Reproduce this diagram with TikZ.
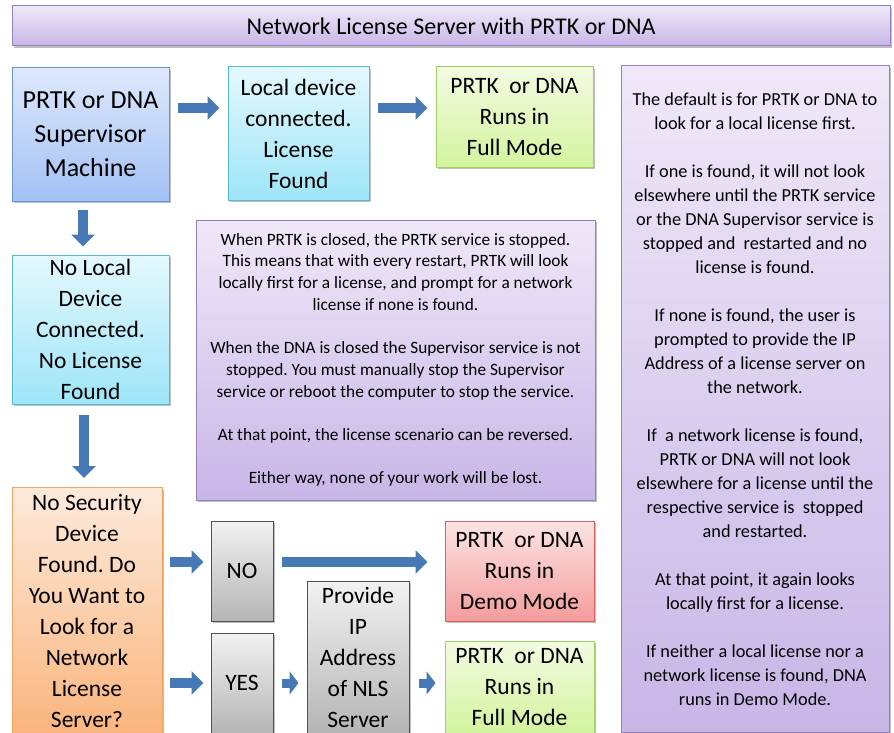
\documentclass[tikz,border=0pt]{standalone}
\usepackage{fontspec}
\setmainfont{Carlito}
\usetikzlibrary{arrows.meta,shadows}
\frenchspacing
\definecolor{arrowblue}{HTML}{4779B6}
\definecolor{purpT}{HTML}{EFE8F8}\definecolor{purpB}{HTML}{C8B6E7}\definecolor{purpD}{HTML}{9580BE}
\definecolor{blueT}{HTML}{DDE8FC}\definecolor{blueB}{HTML}{A3C1F5}\definecolor{blueD}{HTML}{6B93D0}
\definecolor{cyanT}{HTML}{E4F8FD}\definecolor{cyanB}{HTML}{9DE5F8}\definecolor{cyanD}{HTML}{55BCD4}
\definecolor{grnT}{HTML}{F3FBE2}\definecolor{grnB}{HTML}{D3F49E}\definecolor{grnD}{HTML}{A0D064}
\definecolor{orT}{HTML}{FDEADB}\definecolor{orB}{HTML}{FAB57D}\definecolor{orD}{HTML}{F0A460}
\definecolor{redT}{HTML}{FCE4E4}\definecolor{redB}{HTML}{F49C9C}\definecolor{redD}{HTML}{D86262}
\definecolor{gryT}{HTML}{F2F2F2}\definecolor{gryB}{HTML}{B5B5B5}\definecolor{gryD}{HTML}{505050}
\tikzset{
  box/.style={rectangle, line width=1pt, align=center, inner sep=0pt,
    drop shadow={shadow xshift=1.5pt, shadow yshift=-2pt, opacity=0.25, fill=black}},
  purpbox/.style={box, draw=purpD, top color=purpT, bottom color=purpB},
  bluebox/.style={box, draw=blueD, top color=blueT, bottom color=blueB},
  cyanbox/.style={box, draw=cyanD, top color=cyanT, bottom color=cyanB},
  grnbox/.style={box, draw=grnD, top color=grnT, bottom color=grnB},
  orbox/.style={box, draw=orD, top color=orT, bottom color=orB},
  redbox/.style={box, draw=redD, top color=redT, bottom color=redB},
  grybox/.style={box, draw=gryD, top color=gryT, bottom color=gryB},
  barrow/.style={draw=arrowblue, line width=10pt, -{Triangle[width=23pt,length=12pt]}},
  sarrow/.style={draw=arrowblue, line width=9pt, -{Triangle[width=23pt,length=9pt]}},
  bigtxt/.style={font=\fontsize{26}{34}\selectfont},
  medtxt/.style={font=\fontsize{23.5}{31}\selectfont},
  midtxt/.style={font=\fontsize{17.3}{21.7}\selectfont},
  sidetxt/.style={font=\fontsize{18.3}{24}\selectfont},
}
\begin{document}
\begin{tikzpicture}[x=1pt,y=-1pt]
\useasboundingbox (0,0) rectangle (894,733);
\clip (0,0) rectangle (894,733);
\fill[white] (0,0) rectangle (894,733);

\node[purpbox, minimum width=878pt, minimum height=40pt, font=\fontsize{24}{28}\selectfont] (title) at (451,26) {Network License Server with PRTK or DNA};

\node[bluebox, minimum width=157pt, minimum height=133pt, bigtxt] (sup) at (90.5,134.5) {PRTK or DNA\\Supervisor\\Machine};
\node[cyanbox, minimum width=141pt, minimum height=133pt, medtxt] (loc) at (298.5,133.5) {Local device\\connected.\\License\\Found};
\node[grnbox, minimum width=157pt, minimum height=100pt, medtxt] (fullA) at (514.5,117) {PRTK~~or DNA\\Runs in\\Full Mode};

\node[purpbox, minimum width=268pt, minimum height=666pt, sidetxt] (side) at (755,399) {The default is for PRTK or DNA to\\look for a local license first.\\[24pt]If one is found, it will not look\\elsewhere until the PRTK service\\or the DNA Supervisor service is\\stopped and~~restarted and no\\license is found.\\[24pt]If none is found, the user is\\prompted to provide the IP\\Address of a license server on\\the network.\\[24pt]If~~a network license is found,\\PRTK or DNA will not look\\elsewhere for a license until the\\respective service is~~stopped\\and restarted.\\[24pt]At that point, it again looks\\locally first for a license.\\[24pt]If neither a local license nor a\\network license is found, DNA\\runs in Demo Mode.};

\node[cyanbox, minimum width=157pt, minimum height=149pt, medtxt] (nol) at (90.5,329.5) {No Local\\Device\\Connected.\\No License\\Found};

\node[purpbox, minimum width=399pt, minimum height=280pt, midtxt] (mid) at (395.5,360) {When PRTK is closed, the PRTK service is stopped.\\This means that with every restart, PRTK will look\\locally first for a license, and prompt for a network\\license if none is found.\\[21.7pt]When the DNA is closed the Supervisor service is not\\stopped. You must manually stop the Supervisor\\service or reboot the computer to stop the service.\\[21.7pt]At that point, the license scenario can be reversed.\\[21.7pt]Either way, none of your work will be lost.};

\node[orbox, minimum width=150pt, minimum height=246pt, medtxt] (ask) at (87,610.5) {No Security\\Device\\Found. Do\\You Want to\\Look for a\\Network\\License\\Server?};

\node[grybox, minimum width=62pt, minimum height=100pt, medtxt] (no) at (242,571) {NO};
\node[redbox, minimum width=149pt, minimum height=100pt, medtxt] (demo) at (519.5,571) {PRTK~~or DNA\\Runs in\\Demo Mode};
\node[grybox, minimum width=62pt, minimum height=100pt, medtxt] (yes) at (242,683) {YES};
\node[grybox, minimum width=102pt, minimum height=152pt, medtxt] (prov) at (358,657) {Provide\\IP\\Address\\of NLS\\Server};
\node[grnbox, minimum width=149pt, minimum height=92pt, medtxt] (fullB) at (519.5,687) {PRTK~~or DNA\\Runs in\\Full Mode};

% connectors
\draw[barrow, shorten <=8pt, shorten >=8pt] (sup.east |- 0,108) -- (loc.west |- 0,108);
\draw[barrow, shorten <=8pt, shorten >=8pt] (loc.east |- 0,108) -- (fullA.west |- 0,108);
\draw[barrow, shorten <=10pt, shorten >=8pt] (83,200) coordinate (d1) -- (nol.north -| d1);
\draw[barrow, shorten <=11pt, shorten >=9pt] (84,404) coordinate (d2) -- (ask.north -| d2);
\draw[barrow, shorten <=7pt, shorten >=7pt] (ask.east |- 0,562) -- (no.west |- 0,562);
\draw[barrow, shorten <=8pt, shorten >=17pt] (no.east |- 0,562) -- (demo.west |- 0,562);
\draw[barrow, shorten <=7pt, shorten >=7pt] (ask.east |- 0,683) -- (yes.west |- 0,683);
\draw[sarrow, shorten <=8pt, shorten >=8pt] (yes.east |- 0,683) -- (prov.west |- 0,683);
\draw[sarrow, shorten <=9pt, shorten >=9pt] (prov.east |- 0,683) -- (fullB.west |- 0,683);
\end{tikzpicture}
\end{document}
